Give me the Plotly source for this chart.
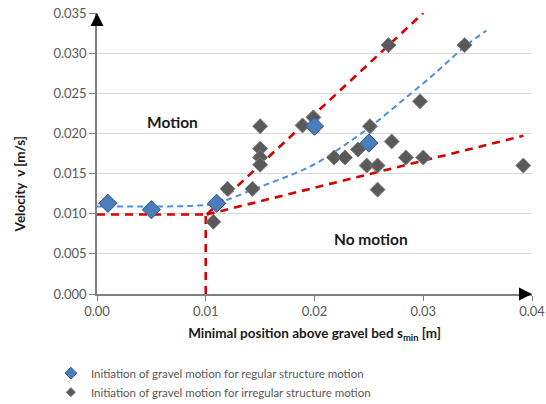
import plotly.graph_objects as go

# Regular structure motion (blue diamonds)
reg_x = [0.001, 0.005, 0.011, 0.020, 0.025]
reg_y = [0.0113, 0.0105, 0.0113, 0.0209, 0.0188]

# Irregular structure motion (gray diamonds)
irr_x = [0.0107, 0.012, 0.0143, 0.015, 0.015, 0.015, 0.015, 0.0189, 0.0199,
         0.0218, 0.0228, 0.024, 0.0248, 0.0251, 0.0258, 0.0258, 0.0268, 0.0271,
         0.0284, 0.0297, 0.030, 0.0338, 0.0392]
irr_y = [0.0090, 0.0131, 0.0131, 0.0209, 0.0181, 0.0170, 0.0161, 0.0210, 0.0220,
         0.0170, 0.0170, 0.0180, 0.0160, 0.0209, 0.0160, 0.0130, 0.0310, 0.0190,
         0.0170, 0.0240, 0.0170, 0.0310, 0.0160]

# Blue trend curve
trend_x = [0.0, 0.009, 0.011, 0.0147, 0.0178, 0.0202, 0.0225, 0.025, 0.028, 0.031, 0.0338, 0.0358]
trend_y = [0.0109, 0.0110, 0.0113, 0.0132, 0.0148, 0.0163, 0.0183, 0.0207, 0.0240, 0.0274, 0.0308, 0.0328]

# Red threshold lines
thr_h_x = [0.0, 0.0100]
thr_h_y = [0.0099, 0.0099]
thr_v_x = [0.0100, 0.0100]
thr_v_y = [0.0, 0.0099]
steep_x = [0.0101, 0.0300]
steep_y = [0.0099, 0.0350]
shallow_x = [0.0101, 0.0392]
shallow_y = [0.0099, 0.0197]

x_ticks = [0.0, 0.01, 0.02, 0.03, 0.04]
x_labels = ["0.00", "0.01", "0.02", "0.03", "0.04"]
y_ticks = [0.0, 0.005, 0.010, 0.015, 0.020, 0.025, 0.030, 0.035]
y_labels = ["0.000", "0.005", "0.010", "0.015", "0.020", "0.025", "0.030", "0.035"]

RED = "#D60000"
BLUE_LINE = "#4F8FD6"
BLUE = "#4A7EBB"
GRAY = "#595959"
FONT = "Lato"

fig = go.Figure()

for xs, ys in [(thr_h_x, thr_h_y), (thr_v_x, thr_v_y), (steep_x, steep_y), (shallow_x, shallow_y)]:
    fig.add_trace(go.Scatter(x=xs, y=ys, mode="lines", showlegend=False, hoverinfo="skip",
                             line=dict(color=RED, width=2.6, dash="8px,6px")))

fig.add_trace(go.Scatter(x=trend_x, y=trend_y, mode="lines", showlegend=False, hoverinfo="skip",
                         line=dict(color=BLUE_LINE, width=2, dash="6px,4px", shape="spline")))

fig.add_trace(go.Scatter(x=irr_x, y=irr_y, mode="markers", showlegend=False,
                         marker=dict(symbol="diamond", size=11.5, color=GRAY,
                                     line=dict(color="#808080", width=1))))
fig.add_trace(go.Scatter(x=reg_x, y=reg_y, mode="markers", showlegend=False,
                         marker=dict(symbol="diamond", size=14, color=BLUE,
                                     line=dict(color="#2F528F", width=1))))

# legend entries
fig.add_trace(go.Scatter(x=[None], y=[None], mode="markers",
                         name="Initiation of gravel motion for regular structure motion",
                         marker=dict(symbol="diamond", size=9, color=BLUE,
                                     line=dict(color="#2F528F", width=1))))
fig.add_trace(go.Scatter(x=[None], y=[None], mode="markers",
                         name="Initiation of gravel motion for irregular structure motion",
                         marker=dict(symbol="diamond", size=7, color=GRAY,
                                     line=dict(color="#808080", width=1))))

annotations = [
    dict(x=0.0069, y=0.0214, xref="x", yref="y", text="<b>Motion</b>", showarrow=False,
         font=dict(family=FONT, size=15.5, color="#1a1a1a")),
    dict(x=0.0252, y=0.00685, xref="x", yref="y", text="<b>No motion</b>", showarrow=False,
         font=dict(family=FONT, size=15.5, color="#1a1a1a")),
    # axis arrowheads
    dict(x=0.04, y=0, xref="x", yref="y", ax=-12, ay=0, text="", showarrow=True,
         arrowhead=2, arrowsize=1.3, arrowwidth=2, arrowcolor="black", standoff=0),
    dict(x=0, y=0.035, xref="x", yref="y", ax=0, ay=12, text="", showarrow=True,
         arrowhead=2, arrowsize=1.3, arrowwidth=2, arrowcolor="black", standoff=0),
    # y title
    dict(x=-0.177, y=0.39, xref="paper", yref="paper", xanchor="center", yanchor="middle",
         text="<b>Velocity  v [m/s]</b>", showarrow=False, textangle=-90,
         font=dict(family=FONT, size=13.5, color="#1a1a1a")),
]

fig.update_layout(
    width=546, height=404,
    margin=dict(l=97, r=14, t=13, b=110, autoexpand=False),
    paper_bgcolor="white", plot_bgcolor="white",
    font=dict(family=FONT, color=GRAY),
    xaxis=dict(range=[0, 0.04], tickvals=x_ticks, ticktext=x_labels, showgrid=False,
               zeroline=False, showline=True, linecolor="#808080", linewidth=1.5,
               ticks="outside", ticklen=5, tickcolor="#808080",
               tickfont=dict(family=FONT, size=13, color=GRAY),
               title=dict(text="<b>Minimal position above gravel bed s<sub>min</sub> [m]</b>",
                          font=dict(family=FONT, size=13.5, color="#1a1a1a"), standoff=10)),
    yaxis=dict(range=[0, 0.035], tickvals=y_ticks, ticktext=y_labels, showgrid=True,
               gridcolor="#D9D9D9", gridwidth=1, zeroline=False, showline=True,
               linecolor="#808080", linewidth=1.5, ticks="outside", ticklen=6,
               tickcolor="#808080", tickfont=dict(family=FONT, size=13, color=GRAY)),
    legend=dict(x=-0.106, y=-0.23, xanchor="left", yanchor="top", orientation="v",
                font=dict(family=FONT, size=11.5, color=GRAY), bgcolor="rgba(0,0,0,0)",
                tracegroupgap=0),
    annotations=annotations,
)

fig.write_html("out.html")
